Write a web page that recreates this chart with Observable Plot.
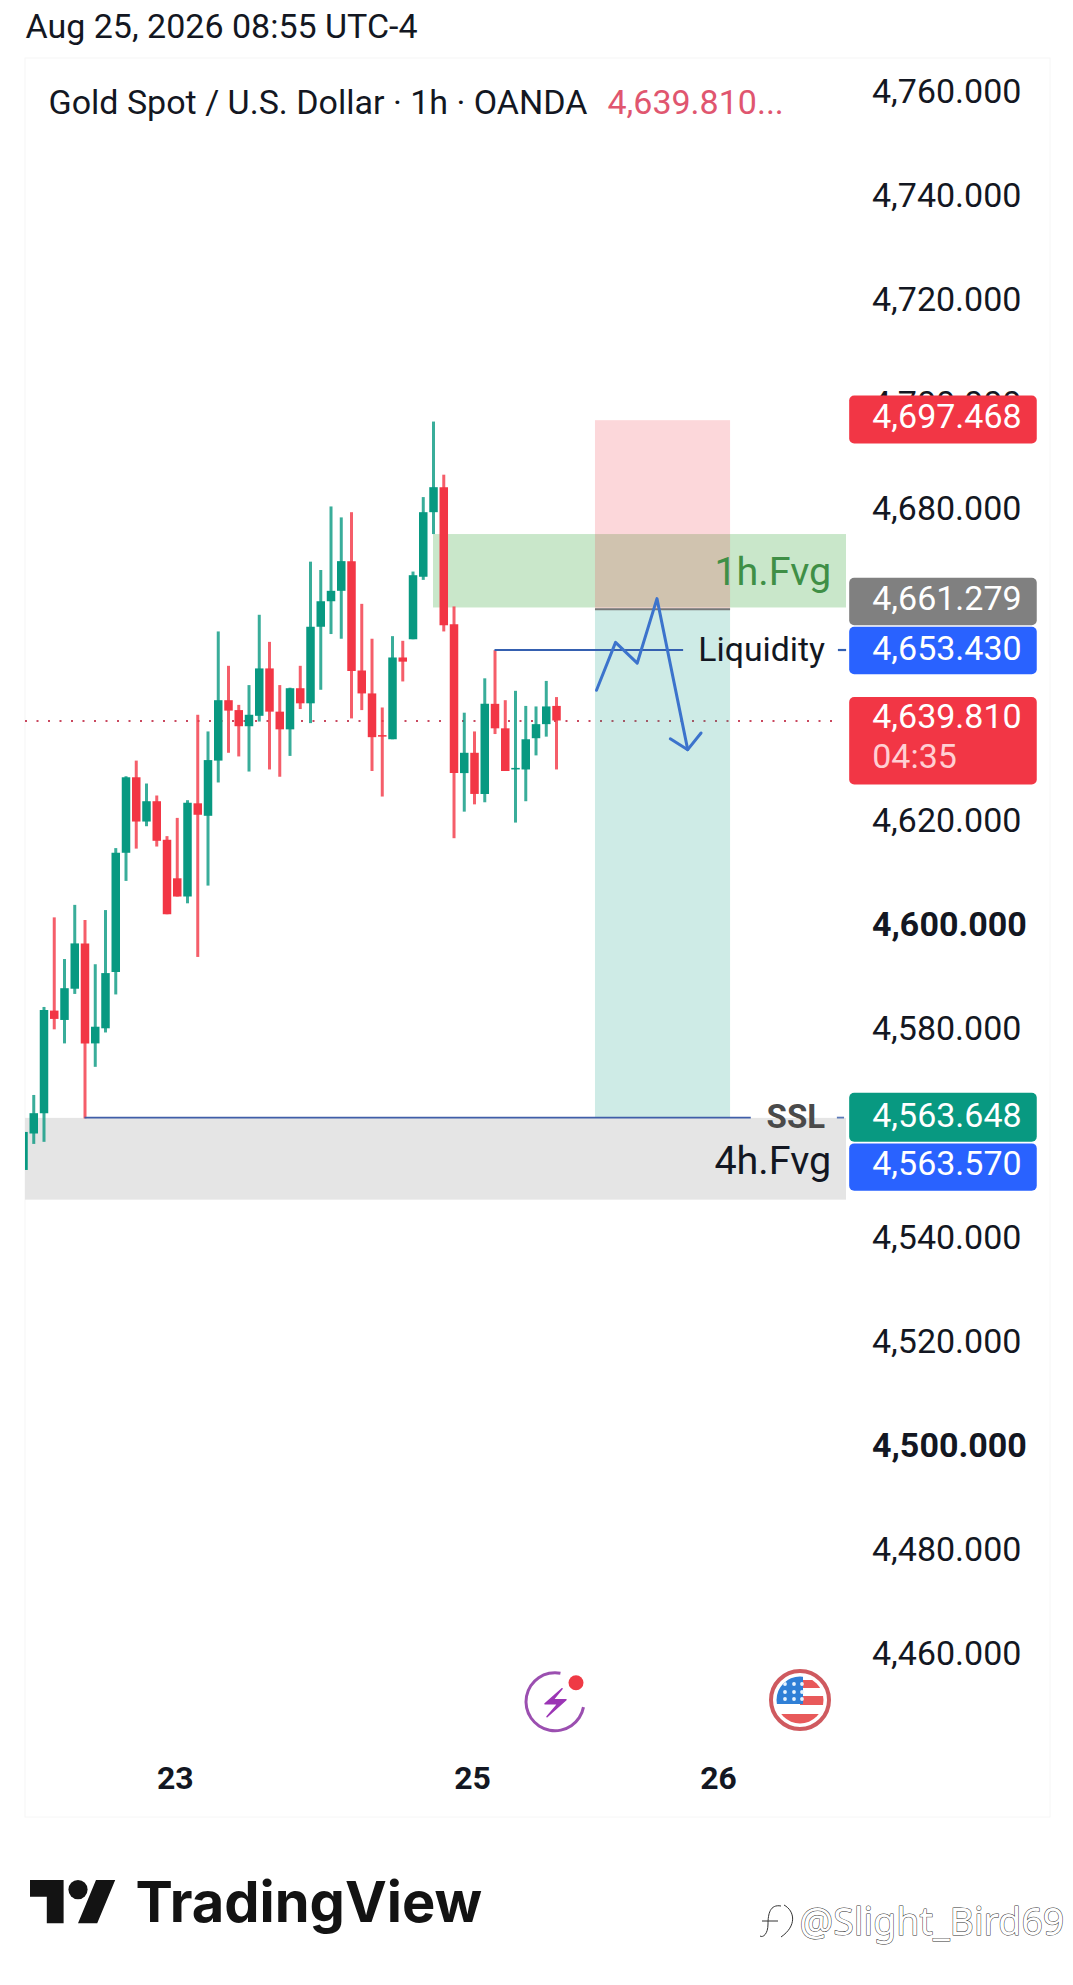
<!DOCTYPE html>
<html>
<head>
<meta charset="utf-8">
<script src="https://cdn.jsdelivr.net/npm/d3@7"></script>
<script src="https://cdn.jsdelivr.net/npm/@observablehq/plot@0.6"></script>
<style>html,body{margin:0;padding:0;background:#fff;overflow:hidden}svg{display:block}</style>
</head>
<body>
<div id="chart"></div>
<script>
const high = [4560.8,4567.9,4584.8,4602.0,4594.0,4604.4,4601.5,4593.0,4603.4,4615.3,
4629.1,4632.1,4627.7,4625.4,4617.6,4621.1,4624.5,4640.9,4637.7,4656.9,
4650.3,4642.8,4646.6,4660.1,4654.9,4646.6,4646.1,4650.3,4670.3,4668.7,
4680.9,4678.8,4679.8,4662.2,4655.5,4642.3,4656.0,4655.1,4668.4,4682.7,
4697.2,4687.0,4661.7,4641.3,4637.7,4647.9,4653.3,4643.7,4645.5,4642.6,
4642.5,4647.4,4644.3];
const bodyTop = [4560.8,4564.4,4584.2,4584.1,4588.4,4597.0,4597.0,4581.0,4591.3,4614.4,
4628.9,4628.9,4624.3,4624.3,4616.9,4609.5,4624.0,4623.9,4632.2,4643.7,
4643.7,4641.8,4640.9,4649.8,4649.8,4641.5,4646.0,4646.0,4657.8,4662.7,
4664.7,4670.4,4670.4,4649.4,4645.0,4637.0,4651.9,4651.9,4667.7,4679.8,
4684.6,4684.6,4658.3,4633.6,4633.6,4643.0,4643.0,4638.3,4630.7,4636.2,
4639.1,4642.5,4642.6];
const bodyBottom = [4553.5,4560.5,4564.4,4582.5,4582.3,4588.3,4577.8,4577.8,4580.7,4591.5,
4614.4,4620.4,4620.4,4616.7,4602.6,4606.0,4606.0,4621.7,4621.5,4632.1,
4641.7,4638.7,4638.7,4640.7,4641.5,4638.1,4638.1,4643.1,4643.1,4657.8,
4662.7,4664.7,4649.3,4645.0,4636.6,4636.7,4636.2,4651.1,4655.4,4667.4,
4679.8,4658.1,4629.7,4629.7,4625.7,4625.7,4638.3,4630.1,4630.4,4630.4,
4636.4,4639.1,4639.8];
const low = [4553.5,4558.5,4558.9,4580.5,4577.8,4587.3,4563.4,4573.3,4579.9,4587.2,
4609.0,4615.2,4619.5,4615.6,4602.6,4606.0,4604.7,4594.4,4608.1,4627.9,
4633.6,4632.9,4630.0,4639.6,4630.4,4629.0,4633.0,4642.0,4639.3,4645.7,
4656.4,4655.5,4640.2,4641.8,4630.1,4625.2,4636.2,4647.3,4655.4,4666.8,
4675.6,4656.9,4617.2,4622.3,4623.7,4624.1,4637.2,4630.1,4620.2,4624.3,
4633.1,4636.7,4630.4];
const direction = ("uuuduuduuu"+"ududdduduu"+"dduudduduu"+"uudddduduu"+"uddududduu"+"uud").split("");

const priceTicks = [4760,4740,4720,4700,4680,4620,4580,4540,4520,4480,4460];
const boldPriceTicks = [4600,4500];
const dayTickPositions = [15,44,68];
const dayTickLabels = ["23","25","26"];

const labelValues = [4697.468,4661.279,4653.430,4639.810,4563.648,4563.570];
const labelTextY  = [4698.1,4663.3,4653.7,4640.5,4564.0,4554.8];
const labelBoxTop = [4702.2,4667.2,4657.8,4644.3,4568.3,4558.6];
const labelBoxBottom = [4693.0,4658.1,4648.7,4627.5,4558.9,4549.5];
const labelColors = ["#f23645","#808080","#2962ff","#f23645","#089981","#2962ff"];

const pathX = [55.9,57.76,59.87,61.8,64.8];
const pathY = [4645.7,4654.9,4650.9,4663.3,4634.3];
const headX = [63.1,64.8,66.1];
const headY = [4636.4,4634.3,4637.5];

const lastPrice = 4639.81;
const stopTop = 4697.468, entry = 4661.279, target = 4563.648;
const fvg1h = [4675.6,4661.5];
const fvg4h = [4563.5,4547.8];
const liquidity = 4653.43;

const candles = high.map((h,i)=>({i,high:h,top:bodyTop[i],bottom:bodyBottom[i],low:low[i],dir:direction[i]}));
const labelRows = labelValues.map((v,i)=>({v,y:labelTextY[i],y1:labelBoxTop[i],y2:labelBoxBottom[i],c:labelColors[i]}));

const font = "Roboto, sans-serif";
const blue = "#3c73cc";
const num = d3.format(",.3f");
const xMin = 0.195, xMax = 80.29;
const xRight = 80.6, xRightEnd = 98.9, xText = 82.8;

const iconsAndLogo = () => {
  const g = d3.create("svg:g");
  g.append("rect").attr("x",25).attr("y",58).attr("width",1025).attr("height",1759).attr("fill","none").attr("stroke","#f6f6f6");
  const a = g.append("g").attr("transform","translate(555,1701.7)");
  a.append("path").attr("d",d3.arc()({innerRadius:27.5,outerRadius:30.5,startAngle:Math.PI*0.56,endAngle:Math.PI*2.06})).attr("fill","#9b4fb0");
  a.append("path").attr("d","M7,-13 L-10,2 L3,2 L-8,15 L11,-2 L-2,-2 Z").attr("fill","#9b35b5").attr("stroke","#9b35b5").attr("stroke-width",1.5).attr("stroke-linejoin","round");
  g.append("circle").attr("cx",576).attr("cy",1682.7).attr("r",7.5).attr("fill","#ef3a45");
  const f = g.append("g").attr("transform","translate(800,1700)");
  const cid = "flagclip";
  g.append("clipPath").attr("id",cid).append("circle").attr("cx",800).attr("cy",1700).attr("r",23.5);
  f.append("circle").attr("r",29).attr("fill","#fff").attr("stroke","#cf5a5f").attr("stroke-width",4);
  const fc = g.append("g").attr("clip-path",`url(#${cid})`);
  fc.append("rect").attr("x",776).attr("y",1676).attr("width",48).attr("height",48).attr("fill","#fff");
  fc.append("rect").attr("x",800).attr("y",1680).attr("width",24).attr("height",8).attr("fill","#e8595a");
  fc.append("rect").attr("x",800).attr("y",1696).attr("width",24).attr("height",9).attr("fill","#e8595a");
  fc.append("rect").attr("x",776).attr("y",1714).attr("width",48).attr("height",12).attr("fill","#e8595a");
  fc.append("rect").attr("x",776).attr("y",1676).attr("width",27).attr("height",28).attr("fill","#2f7fd6");
  for (const px of [787,796,804]) for (const py of [1684,1692,1699])
    fc.append("circle").attr("cx",px-2).attr("cy",py).attr("r",1.9).attr("fill","#e6f3ff");
  const l = g.append("g").attr("transform","translate(30,1870.4) scale(2.4)").attr("fill","#131313");
  l.append("path").attr("d","M14 22H7V11H0V4h14v18zM28 22h-8l7.5-18h8L28 22z");
  l.append("circle").attr("cx",20).attr("cy",8).attr("r",4);
  const glyph = "M781,1906 C770,1904 768,1914 768,1924 C768,1934 763,1938 760,1936 M762,1921 L778,1921 M784,1905 C795,1911 797,1926 781,1937";
  g.append("path").attr("d",glyph).attr("fill","none").attr("stroke","#fff").attr("stroke-width",3.5);
  g.append("path").attr("d",glyph).attr("fill","none").attr("stroke","#333").attr("stroke-width",1);
  return g.node();
};

const frameText = (t,dx,dy,o={}) => Plot.text([t],{text:d=>d,frameAnchor:"top-left",textAnchor:"start",lineAnchor:"middle",dx:dx-25,dy,fontSize:34,fill:"#131722",fontFamily:font,...o});

const chart = Plot.plot({
  width:1073, height:1985,
  marginLeft:25, marginRight:227, marginTop:0, marginBottom:223,
  x:{domain:[xMin,xMax],axis:null},
  y:{domain:[4439.82,4778.145],axis:null},
  color:{domain:["u","d"],range:["#089981","#f23645"]},
  style:{fontFamily:font,background:"#fff",overflow:"visible"},
  marks:[
    iconsAndLogo,
    Plot.axisY({anchor:"right",ticks:priceTicks,tickSize:0,tickPadding:0,dx:25.5,dy:-3,tickFormat:num,label:null,fontSize:34,fill:"#131722",textAnchor:"start"}),
    Plot.axisY({anchor:"right",ticks:boldPriceTicks,tickSize:0,tickPadding:0,dx:25.5,dy:-3,tickFormat:num,label:null,fontSize:34,fontWeight:700,fill:"#131722",textAnchor:"start"}),
    Plot.axisX({anchor:"bottom",ticks:dayTickPositions,tickSize:0,tickPadding:0,dy:4,dx:-2,tickFormat:(d)=>dayTickLabels[dayTickPositions.indexOf(d)],label:null,fontSize:32,fontWeight:700,fill:"#131722"}),
    Plot.rect([0],{x1:xMin,x2:xMax,y1:fvg4h[0],y2:fvg4h[1],fill:"#e5e5e5",clip:true}),
    Plot.ruleY([lastPrice],{x1:xMin,x2:79.4,stroke:"#c9485f",strokeWidth:2,strokeDasharray:"2 9.5"}),
    Plot.rect([0],{x1:40,x2:xMax,y1:fvg1h[0],y2:fvg1h[1],fill:"#4caf50",fillOpacity:0.3}),
    Plot.rect([0],{x1:55.8,x2:68.98,y1:stopTop,y2:entry,fill:"#f23645",fillOpacity:0.2}),
    Plot.rect([0],{x1:55.8,x2:68.98,y1:entry,y2:target,fill:"#089981",fillOpacity:0.2}),
    Plot.ruleY([entry],{x1:55.8,x2:68.98,stroke:"#777",strokeWidth:2}),
    Plot.ruleX(candles,{x:"i",y1:"low",y2:"high",stroke:"dir",strokeWidth:3,strokeOpacity:0.8,clip:true}),
    Plot.ruleX(candles,{x:"i",y1:"bottom",y2:"top",stroke:"dir",strokeWidth:8.5,clip:true}),
    Plot.ruleY([target],{x1:6,x2:71,stroke:"#3f5ea8",strokeWidth:1.8}),
    Plot.ruleY([target],{x1:79.4,x2:80.1,stroke:"#5a78b8",strokeWidth:1.8}),
    Plot.ruleY([liquidity],{x1:46,x2:64.4,stroke:"#3560b0",strokeWidth:2.2}),
    Plot.ruleY([liquidity],{x1:79.5,x2:80.3,stroke:"#3560b0",strokeWidth:2.2}),
    Plot.line(pathX.map((x,i)=>({x,y:pathY[i]})),{x:"x",y:"y",stroke:blue,strokeWidth:3}),
    Plot.line(headX.map((x,i)=>({x,y:headY[i]})),{x:"x",y:"y",stroke:blue,strokeWidth:3}),
    Plot.text(["1h.Fvg"],{x:[78.8],y:[4668.4],textAnchor:"end",fontSize:39.5,fill:"#3f8f46",fontFamily:font}),
    Plot.text(["Liquidity"],{x:[78.2],y:[liquidity],textAnchor:"end",fontSize:33.8,fill:"#131722",fontFamily:font}),
    Plot.text(["SSL"],{x:[78.2],y:[target],textAnchor:"end",fontSize:33,fontWeight:700,fill:"#4a4a4a",fontFamily:font}),
    Plot.text(["4h.Fvg"],{x:[78.8],y:[4555.2],textAnchor:"end",fontSize:39.5,fill:"#131722",fontFamily:font}),
    Plot.rect(labelRows,{x1:xRight,x2:xRightEnd,y1:"y1",y2:"y2",fill:"c",rx:5}),
    Plot.text(labelRows,{x:xText,y:"y",text:d=>num(d.v),textAnchor:"start",fontSize:34,fill:"#fff",fontFamily:font}),
    Plot.text(["04:35"],{x:[xText],y:[4632.8],textAnchor:"start",fontSize:34,fill:"#ffcfd3",fontFamily:font}),
    frameText("Aug 25, 2026 08:55 UTC-4",25,27),
    frameText("Gold Spot / U.S. Dollar · 1h · OANDA",48,103),
    frameText("4,639.810...",607,103,{fill:"#e0566f"}),
    frameText("TradingView",135,1904,{fontSize:56,fontWeight:700,fontFamily:"Inter, sans-serif",fill:"#131313"}),
    frameText("@Slight_Bird69",799,1922,{fontSize:37.5,fill:"#fff",stroke:"#333",strokeWidth:1,fontFamily:"'Noto Sans', sans-serif"})
  ]
});
document.getElementById("chart").append(chart);
</script>
</body>
</html>
